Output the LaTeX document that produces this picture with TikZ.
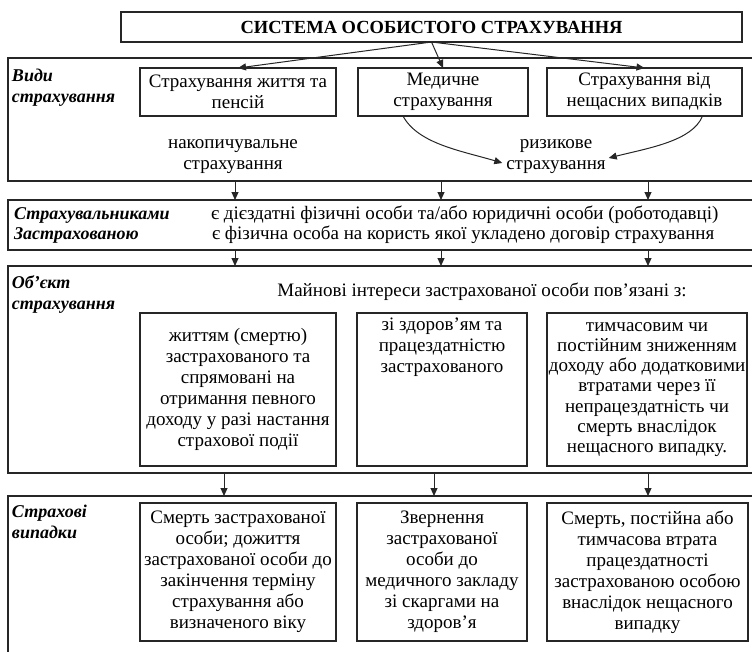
\documentclass[tikz,border=0pt]{standalone}
\usepackage{fontspec}
\setmainfont{Liberation Serif}
\usetikzlibrary{arrows.meta,calc}
\begin{document}
\begin{tikzpicture}[x=1pt,y=-1pt,
  base/.style={font=\fontsize{19}{21}\selectfont, inner sep=0pt, outer sep=0pt},
  frame/.style={base, draw=black!85, line width=1.2pt, anchor=north west, align=center},
  lbl/.style={base, font=\fontsize{18}{21}\selectfont\bfseries\itshape, align=left, anchor=west},
  txt/.style={base, align=center},
  arr/.style={draw=black!85, line width=1pt, -{Triangle[width=7pt,length=8pt]}},
]
\useasboundingbox (0,0) rectangle (752,651);

% title
\node[frame, minimum width=621pt, minimum height=30pt, font=\fontsize{18.5}{22}\selectfont\bfseries] (title) at (121,12) {СИСТЕМА ОСОБИСТОГО СТРАХУВАННЯ};

% section 1
\node[frame, minimum width=760pt, minimum height=123pt] (s1) at (8,58) {};
\node[lbl] (l1) at (12,88) {Види\\страхування};
\node[frame, minimum width=196pt, minimum height=48pt] (b11) at (140,68) {Страхування життя та\\пенсій};
\node[frame, minimum width=170pt, minimum height=48pt] (b12) at (358,68) {Медичне\\страхування};
\node[frame, minimum width=195pt, minimum height=48pt] (b13) at (547,68) {Страхування від\\нещасних випадків};
\node[txt] (acc) at (233,157) {накопичувальне\\страхування};
\node[txt] (risk) at (556,157) {ризикове\\страхування};

\draw[arr] (title.south) -- (b11.north);
\draw[arr] (title.south) -- (b12.north);
\draw[arr] (title.south) -- (b13.north);
\draw[arr] ([xshift=-40pt]b12.south) .. controls +(15,28) and +(-40,-12) .. ([xshift=-4pt,yshift=-6pt]risk.west);
\draw[arr] ([xshift=58pt]b13.south) .. controls +(-10,25) and +(40,-10) .. ([xshift=3pt,yshift=-1pt]risk.east);

% section 2
\node[frame, minimum width=760pt, minimum height=50pt] (s2) at (8,200) {};
\node[lbl] (l2a) at (14,215) {Страхувальниками};
\node[lbl] (l2b) at (14,235) {Застрахованою};
\node[base, anchor=west] (t2a) at (211,215) {є дієздатні фізичні особи та/або юридичні особи (роботодавці)};
\node[base, anchor=west] (t2b) at (212,235) {є фізична особа на користь якої укладено договір страхування};

% section 3
\node[frame, minimum width=760pt, minimum height=207pt] (s3) at (8,266) {};
\node[lbl] (l3) at (12,294) {Об'єкт\\страхування};
\node[txt] (t3) at (482,292) {Майнові інтереси застрахованої особи пов'язані з:};
\node[frame, minimum width=196pt, minimum height=153pt] (b31) at (140,313) {життям (смертю)\\застрахованого та\\спрямовані на\\отримання певного\\доходу у разі настання\\страхової події};
\node[frame, minimum width=170pt, minimum height=153pt] (b32) at (357,313) {};
\node[txt, anchor=north] (t32) at ([yshift=-5pt]b32.north) {зі здоров'ям та\\працездатністю\\застрахованого};
\node[frame, minimum width=200pt, minimum height=153pt, font=\fontsize{19}{20.3}\selectfont] (b33) at (547,313) {тимчасовим чи\\постійним зниженням\\доходу або додатковими\\втратами через її\\непрацездатність чи\\смерть внаслідок\\нещасного випадку.};

% section 4
\node[frame, minimum width=760pt, minimum height=200pt] (s4) at (8,496) {};
\node[lbl] (l4) at (12,522) {Страхові\\випадки};
\node[frame, minimum width=196pt, minimum height=138pt] (b41) at (140,503) {Смерть застрахованої\\особи; дожиття\\застрахованої особи до\\закінчення терміну\\страхування або\\визначеного віку};
\node[frame, minimum width=170pt, minimum height=138pt] (b42) at (357,503) {Звернення\\застрахованої\\особи до\\медичного закладу\\зі скаргами на\\здоров'я};
\node[frame, minimum width=201pt, minimum height=138pt] (b43) at (547,503) {Смерть, постійна або\\тимчасова втрата\\працездатності\\застрахованою особою\\внаслідок нещасного\\випадку};

% vertical connectors
\coordinate (cA) at (235,0);
\coordinate (cB) at (441,0);
\coordinate (cC) at (648,0);
\coordinate (cD) at (224,0);
\coordinate (cE) at (434,0);
\draw[arr] (s1.south -| cA) -- (s2.north -| cA);
\draw[arr] (s1.south -| cB) -- (s2.north -| cB);
\draw[arr] (s1.south -| cC) -- (s2.north -| cC);
\draw[arr] (s2.south -| cA) -- (s3.north -| cA);
\draw[arr] (s2.south -| cB) -- (s3.north -| cB);
\draw[arr] (s2.south -| cC) -- (s3.north -| cC);
\draw[arr] (s3.south -| cD) -- (s4.north -| cD);
\draw[arr] (s3.south -| cE) -- (s4.north -| cE);
\draw[arr] (s3.south -| cC) -- (s4.north -| cC);
\end{tikzpicture}
\end{document}
